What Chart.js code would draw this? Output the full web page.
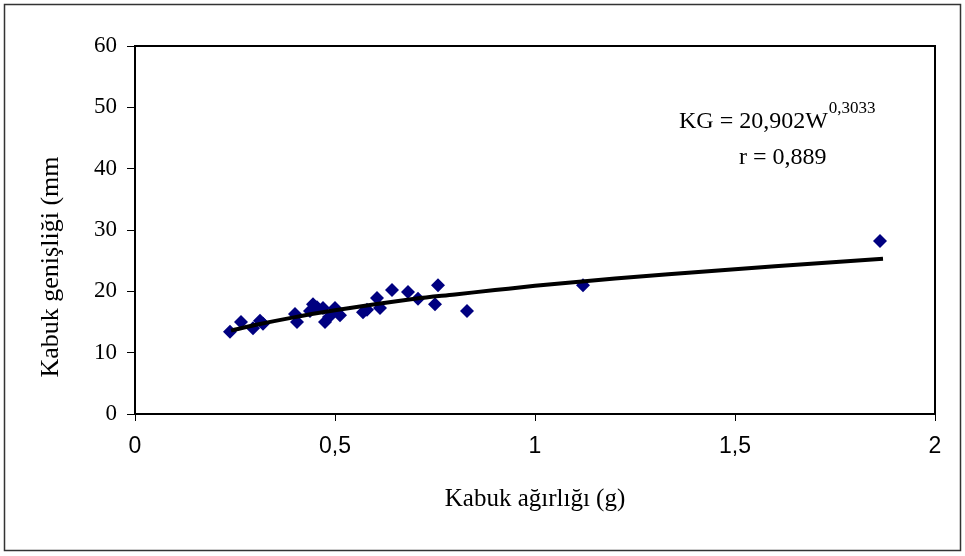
<!DOCTYPE html>
<html>
<head>
<meta charset="utf-8">
<script src="https://cdn.jsdelivr.net/npm/chart.js@4.4.1/dist/chart.umd.min.js"></script>
<style>
  body { margin: 0; background: #fff; }
  #wrap { width: 965px; height: 556px; }
</style>
</head>
<body>
<div id="wrap"><canvas id="myChart" width="965" height="556"></canvas></div>
<script>
// shell weight (g) vs shell width (mm)
var weights = [0.2375, 0.265, 0.295, 0.3125, 0.32, 0.40, 0.405, 0.4375, 0.445, 0.455, 0.47, 0.475, 0.485,
  0.495, 0.50, 0.5125, 0.57, 0.58, 0.605, 0.6125, 0.6425, 0.6825, 0.7075, 0.75, 0.7575, 0.83, 1.12, 1.8625];
var widths = [13.4, 15.0, 14.0, 15.2, 14.7, 16.3, 15.0, 16.8, 17.9, 17.4, 17.3, 15.0, 15.8,
  16.6, 17.3, 16.1, 16.6, 17.0, 18.9, 17.3, 20.2, 19.9, 18.8, 17.9, 21.0, 16.8, 21.0, 28.2];

// power trend line
var trendX = [0.24, 0.3, 0.4, 0.5, 0.6, 0.7, 0.8, 0.9, 1.0, 1.2, 1.4, 1.6, 1.87];
var trendY = [13.6, 14.5, 15.8, 16.9, 17.9, 18.8, 19.5, 20.2, 20.9, 22.1, 23.1, 24.1, 25.3];

var xTicks = [0, 0.5, 1, 1.5, 2];
var yTicks = [0, 10, 20, 30, 40, 50, 60];

var eqText = "KG = 20,902W";
var eqPower = "0,3033";
var rText = "r = 0,889";
var xTitle = "Kabuk ağırlığı (g)";
var yTitle = "Kabuk genişliği (mm";

var scatterPts = weights.map(function (w, i) { return { x: w, y: widths[i] }; });
var trendPts = trendX.map(function (w, i) { return { x: w, y: trendY[i] }; });

var serif = '"Liberation Serif", "Times New Roman", serif';

var decor = {
  id: 'decor',
  afterDraw: function (chart) {
    var ctx = chart.ctx;
    var a = chart.chartArea;
    ctx.save();
    // outer frame
    ctx.strokeStyle = '#333';
    ctx.lineWidth = 1.5;
    ctx.strokeRect(4.5, 4.5, 956, 546);
    // plot frame
    ctx.strokeStyle = '#000';
    ctx.lineWidth = 2;
    ctx.strokeRect(a.left, a.top, a.right - a.left, a.bottom - a.top);

    ctx.fillStyle = '#000';
    // x title
    ctx.font = '25px ' + serif;
    ctx.textAlign = 'center';
    ctx.textBaseline = 'alphabetic';
    ctx.fillText(xTitle, (a.left + a.right) / 2, 506);
    // y title
    ctx.save();
    ctx.translate(58, 267);
    ctx.rotate(-Math.PI / 2);
    ctx.font = '26px ' + serif;
    ctx.fillText(yTitle, 0, 0);
    ctx.restore();

    // equation
    ctx.font = '24px ' + serif;
    ctx.textAlign = 'left';
    ctx.fillText(eqText, 679, 128);
    var w = ctx.measureText(eqText).width;
    ctx.font = '17px ' + serif;
    ctx.fillText(eqPower, 679 + w + 1, 113);
    ctx.font = '24px ' + serif;
    ctx.fillText(rText, 739, 164);
    ctx.restore();
  }
};

new Chart("myChart", {
  type: "scatter",
  data: {
    datasets: [{
      label: "data",
      data: scatterPts,
      pointStyle: 'rectRot',
      pointRadius: 7,
      pointHoverRadius: 7,
      backgroundColor: "#000080",
      borderColor: "#000080",
      borderWidth: 0,
      order: 2
    }, {
      label: "trend",
      type: "line",
      data: trendPts,
      showLine: true,
      borderColor: "#000",
      borderWidth: 4,
      pointRadius: 0,
      cubicInterpolationMode: 'monotone',
      fill: false,
      order: 1
    }]
  },
  plugins: [decor],
  options: {
    responsive: false,
    animation: false,
    events: [],
    layout: { padding: { top: 46, right: 30, left: 0, bottom: 0 } },
    plugins: {
      legend: { display: false },
      tooltip: { enabled: false }
    },
    scales: {
      x: {
        type: 'linear',
        min: 0,
        max: 2,
        afterFit: function (s) { s.height = 142; },
        afterBuildTicks: function (s) { s.ticks = xTicks.map(function (v) { return { value: v }; }); },
        border: { display: false },
        grid: { drawOnChartArea: false, drawTicks: true, tickLength: 7, color: '#000', tickWidth: 1 },
        ticks: {
          color: '#000',
          padding: 12,
          font: { family: '"Liberation Sans Narrow", "Liberation Sans", Arial, sans-serif', size: 23 },
          callback: function (v) { return String(v).replace('.', ','); }
        }
      },
      y: {
        type: 'linear',
        min: 0,
        max: 60,
        afterFit: function (s) { s.width = 135; },
        afterBuildTicks: function (s) { s.ticks = yTicks.map(function (v) { return { value: v }; }); },
        border: { display: false },
        grid: { drawOnChartArea: false, drawTicks: true, tickLength: 8, color: '#000', tickWidth: 1 },
        ticks: {
          color: '#000',
          padding: 10,
          font: { family: serif, size: 23 }
        }
      }
    }
  }
});
</script>
</body>
</html>
